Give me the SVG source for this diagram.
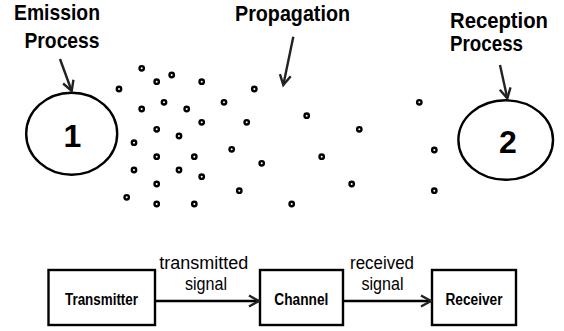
<svg xmlns="http://www.w3.org/2000/svg" width="564" height="331" viewBox="0 0 564 331">
<style>
.lbl{font-family:"Liberation Sans",Arial,sans-serif;font-weight:bold;font-size:21.5px;fill:#000}
.num{font-family:"Liberation Sans",Arial,sans-serif;font-weight:bold;font-size:32px;fill:#000;text-anchor:middle}
.box{fill:#fff;stroke:#000;stroke-width:2.4}
.btxt{font-family:"Liberation Sans",Arial,sans-serif;font-weight:bold;font-size:16px;fill:#000;text-anchor:middle}
.sig{font-family:"Liberation Sans",Arial,sans-serif;font-size:17.5px;fill:#000;text-anchor:middle}
.ell{fill:#fff;stroke:#000;stroke-width:2.4}
.dot{fill:#fff;stroke:#000;stroke-width:2.4}
.pt{fill:none;stroke:#222;stroke-width:2.4}
.ln{fill:none;stroke:#000;stroke-width:2.4}
</style>
<defs>
<marker id="vhead" markerUnits="userSpaceOnUse" markerWidth="14" markerHeight="14" refX="11" refY="6" orient="auto" viewBox="0 0 14 12">
<path d="M1,0.5 L11,6 L1,11.5" fill="none" stroke="#222" stroke-width="2.4"/>
</marker>
</defs>
<rect width="564" height="331" fill="#fff"/>
<g id="emission-label">
<text class="lbl" x="57" y="20" text-anchor="middle" textLength="86" lengthAdjust="spacingAndGlyphs">Emission</text>
<text class="lbl" x="62" y="48" text-anchor="middle" textLength="75" lengthAdjust="spacingAndGlyphs">Process</text>
</g>
<g id="propagation-label">
<text class="lbl" x="292.5" y="21" text-anchor="middle" textLength="115" lengthAdjust="spacingAndGlyphs">Propagation</text>
</g>
<g id="reception-label">
<text class="lbl" x="450" y="27.5" textLength="98" lengthAdjust="spacingAndGlyphs">Reception</text>
<text class="lbl" x="450" y="51" textLength="73" lengthAdjust="spacingAndGlyphs">Process</text>
</g>
<g id="node1">
<ellipse class="ell" cx="71.7" cy="133.7" rx="45.5" ry="41"/>
<text class="num" x="72.5" y="146.7">1</text>
</g>
<g id="node2">
<ellipse class="ell" cx="505.7" cy="140" rx="47.3" ry="39.7"/>
<text class="num" x="508" y="153.3">2</text>
</g>
<g id="particles">
<circle class="dot" cx="141.7" cy="68.3" r="2.2"/>
<circle class="dot" cx="171.7" cy="75" r="2.2"/>
<circle class="dot" cx="156.7" cy="81.7" r="2.2"/>
<circle class="dot" cx="201.7" cy="81.7" r="2.2"/>
<circle class="dot" cx="119" cy="89" r="2.2"/>
<circle class="dot" cx="254.3" cy="89" r="2.2"/>
<circle class="dot" cx="164" cy="102.3" r="2.2"/>
<circle class="dot" cx="224" cy="102.3" r="2.2"/>
<circle class="dot" cx="141.7" cy="109" r="2.2"/>
<circle class="dot" cx="186.7" cy="109" r="2.2"/>
<circle class="dot" cx="201.7" cy="122.3" r="2.2"/>
<circle class="dot" cx="246.7" cy="122.3" r="2.2"/>
<circle class="dot" cx="156.7" cy="129.3" r="2.2"/>
<circle class="dot" cx="179" cy="136" r="2.2"/>
<circle class="dot" cx="134" cy="142.7" r="2.2"/>
<circle class="dot" cx="231.7" cy="149.3" r="2.2"/>
<circle class="dot" cx="156.7" cy="156.7" r="2.2"/>
<circle class="dot" cx="194.3" cy="156.7" r="2.2"/>
<circle class="dot" cx="261.7" cy="163.3" r="2.2"/>
<circle class="dot" cx="134" cy="170" r="2.2"/>
<circle class="dot" cx="179" cy="170" r="2.2"/>
<circle class="dot" cx="201.7" cy="176.7" r="2.2"/>
<circle class="dot" cx="156.7" cy="184" r="2.2"/>
<circle class="dot" cx="239.3" cy="190.7" r="2.2"/>
<circle class="dot" cx="126.7" cy="197.3" r="2.2"/>
<circle class="dot" cx="156.7" cy="204" r="2.2"/>
<circle class="dot" cx="194.3" cy="204" r="2.2"/>
<circle class="dot" cx="291.7" cy="204" r="2.2"/>
<circle class="dot" cx="306.7" cy="115.7" r="2.2"/>
<circle class="dot" cx="359.3" cy="129.3" r="2.2"/>
<circle class="dot" cx="419.3" cy="102.3" r="2.2"/>
<circle class="dot" cx="321.7" cy="156.7" r="2.2"/>
<circle class="dot" cx="434.3" cy="150" r="2.2"/>
<circle class="dot" cx="351.7" cy="184" r="2.2"/>
<circle class="dot" cx="434.3" cy="190.7" r="2.2"/>
</g>
<g id="transmitter">
<rect class="box" x="48.5" y="270" width="106.5" height="55"/>
<text class="btxt" x="101.5" y="305" textLength="73" lengthAdjust="spacingAndGlyphs">Transmitter</text>
</g>
<g id="channel">
<rect class="box" x="260" y="270" width="83" height="55"/>
<text class="btxt" x="301.3" y="305" textLength="54" lengthAdjust="spacingAndGlyphs">Channel</text>
</g>
<g id="receiver">
<rect class="box" x="432" y="270" width="84" height="55"/>
<text class="btxt" x="474" y="305" textLength="57" lengthAdjust="spacingAndGlyphs">Receiver</text>
</g>
<g id="connectors">
<line class="pt" x1="60" y1="59" x2="71.7" y2="91" marker-end="url(#vhead)"/>
<line class="pt" x1="293.3" y1="36.7" x2="283.3" y2="85" marker-end="url(#vhead)"/>
<line class="pt" x1="500" y1="65" x2="507.3" y2="98.3" marker-end="url(#vhead)"/>
<line class="ln" x1="155" y1="301" x2="259" y2="301" marker-end="url(#vhead)"/>
<line class="ln" x1="343" y1="301" x2="431" y2="301" marker-end="url(#vhead)"/>
<text class="sig" x="203.8" y="269.3" textLength="89" lengthAdjust="spacingAndGlyphs">transmitted</text>
<text class="sig" x="206" y="290" textLength="42" lengthAdjust="spacingAndGlyphs">signal</text>
<text class="sig" x="382" y="269.3" textLength="64" lengthAdjust="spacingAndGlyphs">received</text>
<text class="sig" x="382.5" y="290" textLength="42" lengthAdjust="spacingAndGlyphs">signal</text>
</g>
</svg>
